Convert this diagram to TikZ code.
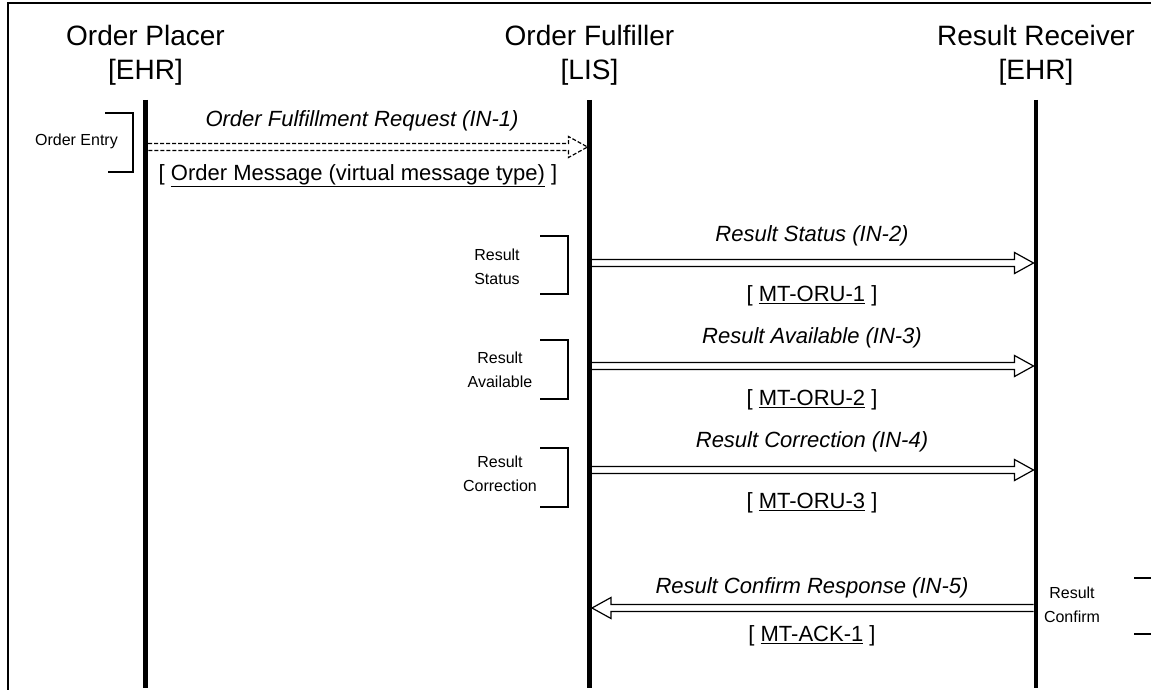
\documentclass[tikz,border=0pt]{standalone}
\usepackage{fontspec}
\setmainfont{Liberation Sans}
\usetikzlibrary{calc}

\tikzset{
  head/.style={align=center, font=\fontsize{28}{34}\selectfont, inner sep=0pt},
  lifeline/.style={line width=4.5pt},
  lbl/.style={font=\fontsize{22}{26}\selectfont\itshape, inner sep=0pt},
  mtype/.style={font=\fontsize{22}{26}\selectfont, inner sep=0pt},
  note/.style={align=center, font=\fontsize{16}{24}\selectfont, inner sep=0pt},
  bracket/.style={line width=1.3pt},
  hollow/.style={line width=1.2pt, to path={
      let \p1=(\tikztostart), \p2=(\tikztotarget),
          \n1={ifthenelse(\x2>\x1,1,-1)} in
      (\x1,{\y1+3.5pt}) -- ({\x2-19pt*\n1},{\y1+3.5pt})
      -- ({\x2-19pt*\n1},{\y1+10.5pt}) -- (\x2,\y2)
      -- ({\x2-19pt*\n1},{\y1-10.5pt}) -- ({\x2-19pt*\n1},{\y1-3.5pt})
      -- (\x1,{\y1-3.5pt})}},
}

\begin{document}
\begin{tikzpicture}[x=1pt, y=-1pt]
    \useasboundingbox (0,0) rectangle (1151,690);

    % Frame
    \draw[line width=2pt] (8,690) -- (8,3) -- (1151,3);

    % Actors
    \node[head] (op) at (145.5,55) {Order Placer\\{[EHR]}};
    \node[head] (of) at (589.5,55) {Order Fulfiller\\{[LIS]}};
    \node[head] (rr) at (1036,55) {Result Receiver\\{[EHR]}};

    % Lifelines
    \coordinate (op-top) at (145.5,100);
    \coordinate (op-bot) at (145.5,688);
    \coordinate (of-top) at (589.5,100);
    \coordinate (of-bot) at (589.5,688);
    \coordinate (rr-top) at (1036,100);
    \coordinate (rr-bot) at (1036,688);
    \draw[lifeline] (op-top) -- (op-bot);
    \draw[lifeline] (of-top) -- (of-bot);
    \draw[lifeline] (rr-top) -- (rr-bot);

    % Order Fulfillment Request (IN-1)
    \coordinate (op-1) at (148,147);
    \coordinate (of-1) at (587.5,147);
    \draw[hollow, dash pattern=on 4pt off 2pt] (op-1) to (of-1);
    \node[lbl] (in1) at (362,121) {Order Fulfillment Request (IN-1)};
    \node[mtype] (mt1) at (358,176) {[ \underline{Order Message (virtual message type)} ]};
    \draw[bracket] (105,113) -| (133,172) -- (108,172);
    \node[note, anchor=east] (entry) at (118,141) {Order Entry};

    % Result Status (IN-2)
    \coordinate (of-2) at (592,263);
    \coordinate (rr-2) at (1033.5,263);
    \draw[hollow] (of-2) to (rr-2);
    \node[lbl] (in2) at (812,236) {Result Status (IN-2)};
    \node[mtype] (mt2) at (812,296) {[ \underline{MT-ORU-1} ]};
    \draw[bracket] (540,236) -| (568,294) -- (540,294);
    \node[note] (status) at (497,267) {Result\\Status};

    % Result Available (IN-3)
    \coordinate (of-3) at (592,366);
    \coordinate (rr-3) at (1033.5,366);
    \draw[hollow] (of-3) to (rr-3);
    \node[lbl] (in3) at (812,338) {Result Available (IN-3)};
    \node[mtype] (mt3) at (812,400) {[ \underline{MT-ORU-2} ]};
    \draw[bracket] (540,340) -| (568,399) -- (540,399);
    \node[note] (avail) at (500,370) {Result\\Available};

    % Result Correction (IN-4)
    \coordinate (of-4) at (592,470);
    \coordinate (rr-4) at (1033.5,470);
    \draw[hollow] (of-4) to (rr-4);
    \node[lbl] (in4) at (812,442) {Result Correction (IN-4)};
    \node[mtype] (mt4) at (812,503) {[ \underline{MT-ORU-3} ]};
    \draw[bracket] (540,448) -| (568,507) -- (540,507);
    \node[note] (corr) at (500,474) {Result\\Correction};

    % Result Confirm Response (IN-5)
    \coordinate (rr-5) at (1033.5,608);
    \coordinate (of-5) at (592,608);
    \draw[hollow] (rr-5) to (of-5);
    \node[lbl] (in5) at (812,588) {Result Confirm Response (IN-5)};
    \node[mtype] (mt5) at (812,636) {[ \underline{MT-ACK-1} ]};
    \draw[bracket] (1134,578) -| (1153,634) -- (1134,634);
    \node[note] (confirm) at (1072,605) {Result\\Confirm};

\end{tikzpicture}
\end{document}
